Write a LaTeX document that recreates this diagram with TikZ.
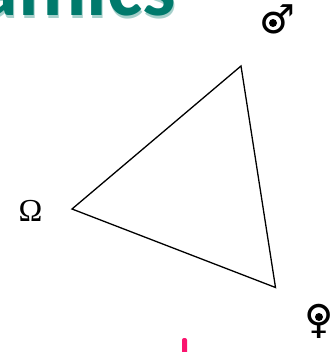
\documentclass[tikz,border=0pt]{standalone}
\usepackage{fontspec}
\setmainfont{Liberation Serif}
\newfontfamily\titlefont{Carlito}
\newfontfamily\symfont{DejaVu Sans}
\usetikzlibrary{positioning}
\definecolor{titleteal}{RGB}{0,122,108}
\definecolor{barpink}{RGB}{250,20,110}

\begin{document}
\begin{tikzpicture}[
  x=1pt, y=-1pt,
  side/.style={draw, line width=1.3pt, line join=miter},
  vlabel/.style={inner sep=0pt, anchor=base, font=\fontsize{32}{32}\selectfont},
  sym/.style={inner sep=0pt, font=\symfont\bfseries\fontsize{40}{40}\selectfont},
  heading/.style={inner sep=0pt, anchor=base east, font=\titlefont\bfseries\fontsize{84}{84}\selectfont},
]
\useasboundingbox (0,0) rectangle (333,352);
\clip (0,0) rectangle (333,352);
% title, cut off by the top of the slide
\node[heading, titleteal!35] (shadow) at (177,18.5) {Dynamics};
\node[heading, titleteal] (title) at (176,16) {Dynamics};
% corners of the triangle
\coordinate (top) at (241,66);
\coordinate (left) at (72,209);
\coordinate (right) at (275.5,287.5);
\draw[side] (top) -- (left) -- (right) -- cycle;
% vertex labels
\node[vlabel] (omega) at (30.5,221.7) {Ω};
\node[sym] (male) at (277,19) {♂};
\node[sym] (female) at (319,321) {♀};
\fill (273,23) circle (4);
\fill (319,317) circle (4);
% pink mark at the bottom edge
\fill[barpink, rounded corners=2pt] (182,360) |- (187,338) -- (187,360) -- cycle;
\end{tikzpicture}
\end{document}
